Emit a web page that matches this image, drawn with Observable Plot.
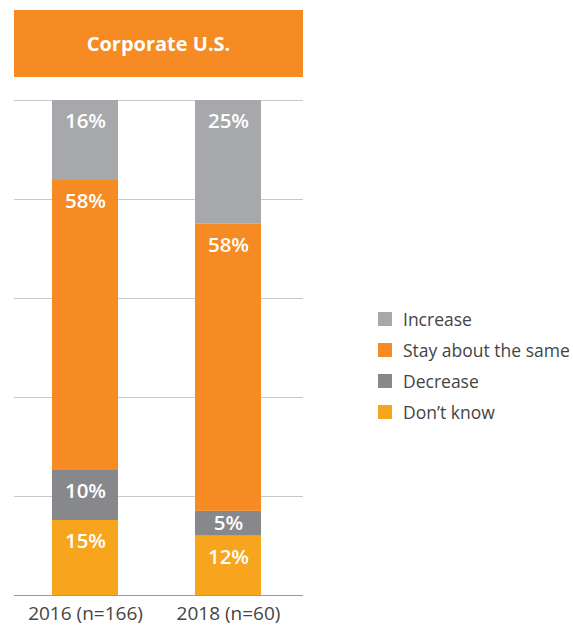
<!DOCTYPE html>
<html>
<head>
<meta charset="utf-8">
<script src="https://cdn.jsdelivr.net/npm/d3@7"></script>
<script src="https://cdn.jsdelivr.net/npm/@observablehq/plot@0.6"></script>
<style>
  html, body { margin: 0; padding: 0; background: #fff; }
  body { width: 573px; height: 627px; position: relative; overflow: hidden; font-family: "Open Sans", sans-serif; }
  #header { position: absolute; left: 14px; top: 10px; width: 289px; height: 67px; background: #F58B22;
    color: #fff; font-weight: 700; font-size: 20px; display: flex; align-items: center; justify-content: center; }
  #chart { position: absolute; left: 0; top: 90px; }
  #legend { position: absolute; left: 378px; top: 303px; }
  .item { display: flex; align-items: center; height: 31px; font-size: 17.5px; color: #444; }
  .sw { width: 14px; height: 14px; margin-right: 11px; }
</style>
</head>
<body>
<div id="header">Corporate U.S.</div>
<div id="chart"></div>
<div id="legend"></div>
<script>
const years = ["2016 (n=166)", "2018 (n=60)"];
const categories = ["Don’t know", "Decrease", "Stay about the same", "Increase"];
const values2016 = [15, 10, 58, 16];
const values2018 = [12, 5, 58, 25];
const colors = ["#F7A51D", "#87888C", "#F58B22", "#A7A8AC"];
const legendOrder = ["Increase", "Stay about the same", "Decrease", "Don’t know"];
const gridTicks = [0.2, 0.4, 0.6, 0.8, 1];

const data = [];
categories.forEach((c, i) => {
  data.push({year: years[0], category: c, value: values2016[i]});
  data.push({year: years[1], category: c, value: values2018[i]});
});

const stackOpts = {x: "year", y: "value", z: "category", order: categories, offset: "normalize"};
const labelStyle = {fill: "#fff", fontSize: 20.5, fontWeight: 600};

const chart = Plot.plot({
  width: 320,
  height: 537,
  marginLeft: 14,
  marginRight: 17,
  marginTop: 10,
  marginBottom: 32,
  style: {fontFamily: "'Open Sans', sans-serif", fontSize: "19px", background: "transparent", color: "#444"},
  x: {domain: years, paddingInner: 0.535, paddingOuter: 0.271, align: 0.474},
  y: {domain: [0, 1], axis: null},
  color: {domain: categories, range: colors},
  marks: [
    Plot.ruleY(gridTicks, {stroke: "#c8c8c8", strokeWidth: 1}),
    Plot.barY(data, Plot.stackY({...stackOpts, fill: "category"})),
    Plot.text(data, Plot.stackY2({...stackOpts, text: d => d.value >= 8 ? d.value + "%" : null, dy: 21, ...labelStyle})),
    Plot.text(data, Plot.stackY({...stackOpts, text: d => d.value < 8 ? d.value + "%" : null, ...labelStyle})),
    Plot.ruleY([0], {stroke: "#9a9a9a", strokeWidth: 1.2}),
    Plot.axisX({tickSize: 0, tickPadding: 11, label: null, fontSize: 19, fill: "#444"})
  ]
});
document.getElementById("chart").appendChild(chart);

const legend = document.getElementById("legend");
legendOrder.forEach(c => {
  const item = document.createElement("div");
  item.className = "item";
  const sw = document.createElement("div");
  sw.className = "sw";
  sw.style.background = colors[categories.indexOf(c)];
  const label = document.createElement("span");
  label.textContent = c;
  item.appendChild(sw);
  item.appendChild(label);
  legend.appendChild(item);
});
</script>
</body>
</html>
